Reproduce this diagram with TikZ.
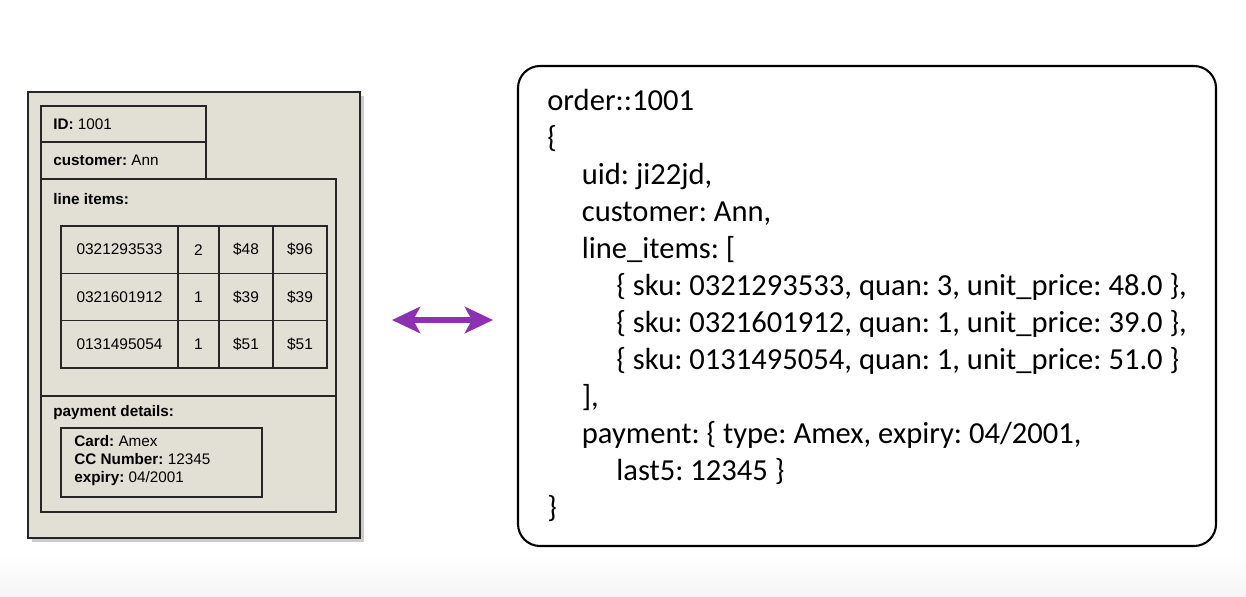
\documentclass[tikz,border=0pt]{standalone}
\usepackage{fontspec}
\usetikzlibrary{arrows.meta,shadows}
\newfontfamily\formfont{Liberation Sans}
\newfontfamily\codefont{Carlito}
\definecolor{formbg}{RGB}{226,224,213}
\definecolor{linkpurple}{RGB}{140,48,180}
\newcommand\pxl{0.02cm}
\frenchspacing
\begin{document}
\begin{tikzpicture}[x=0.02cm, y=-0.02cm,
    pane/.style={draw=black!85, fill=formbg, line width=0.8pt, inner sep=0, outer sep=0, anchor=north west},
    cell/.style={pane, minimum height=47.3*\pxl, font=\formfont\fontsize{8.8}{10}\selectfont},
    label/.style={anchor=base west, inner sep=0, font=\formfont\fontsize{8.7}{10.4}\selectfont},
    codeline/.style={anchor=base west, inner sep=0, font=\codefont\fontsize{17.4}{21}\selectfont}]
  \useasboundingbox (0,0) rectangle (1246,596);
  \shade[top color=white, bottom color=black!4] (0,556) rectangle (1246,596);

  % the order form
  \node[pane, line width=1pt, minimum width=332*\pxl, minimum height=446*\pxl,
        drop shadow={shadow xshift=2pt, shadow yshift=-2.5pt, opacity=.4}] (form) at (28,92) {};
  \node[pane, minimum width=165*\pxl, minimum height=36*\pxl] (idbox) at (41,106) {};
  \node[pane, minimum width=165*\pxl, minimum height=37*\pxl] (custbox) at (idbox.south west) {};
  \node[pane, minimum width=295*\pxl, minimum height=217*\pxl] (itembox) at (custbox.south west) {};
  \node[pane, minimum width=295*\pxl, minimum height=116*\pxl] (paybox) at (itembox.south west) {};
  \node[pane, minimum width=201*\pxl, minimum height=69*\pxl] (cardbox) at (61,428) {};

  \node[label] (idtxt) at (53,129.5) {\textbf{ID:} 1001};
  \node[label] (custtxt) at (53,165.5) {\textbf{customer:} Ann};
  \node[label] (itemtxt) at (53,204.5) {\textbf{line items:}};
  \node[label] (paytxt) at (53,416) {\textbf{payment details:}};
  \node[label] (cardtxt) at (74,446) {\textbf{Card:} Amex};
  \node[label] (cctxt) at (74,464) {\textbf{CC Number:} 12345};
  \node[label] (exptxt) at (74,482) {\textbf{expiry:} 04/2001};

  % line item table
  \foreach \sku/\q/\p/\t [count=\r] in {0321293533/2/48/96, 0321601912/1/39/39, 0131495054/1/51/51} {
    \node[cell, minimum width=117*\pxl] (sku\r) at (61,{226+(\r-1)*47.3}) {\sku};
    \node[cell, minimum width=41*\pxl] (qty\r) at (sku\r.north east) {\q};
    \node[cell, minimum width=54*\pxl] (unit\r) at (qty\r.north east) {\$\p};
    \node[cell, minimum width=54*\pxl] (tot\r) at (unit\r.north east) {\$\t};
  }

  % the document
  \node[draw, line width=1.2pt, rounded corners=0.44cm, minimum width=698*\pxl, minimum height=480*\pxl,
        inner sep=0, outer sep=0, anchor=north west] (doc) at (518,66) {};
  \foreach \lvl/\txt [count=\i] in {
      0/{order::1001}, 0/\{, 1/{uid: ji22jd,}, 1/{customer: Ann,}, 1/{line\_items: [},
      2/{\{ sku: 0321293533, quan: 3, unit\_price: 48.0 \},},
      2/{\{ sku: 0321601912, quan: 1, unit\_price: 39.0 \},},
      2/{\{ sku: 0131495054, quan: 1, unit\_price: 51.0 \}},
      1/{],}, 1/{payment: \{ type: Amex, expiry: 04/2001,}, 2/{last5: 12345 \}}, 0/\}}
    \node[codeline] (code\i) at ({547+\lvl*34.5},{110+(\i-1)*37}) {\txt};

  % mapping arrow
  \coordinate (mapl) at (392,320);
  \coordinate (mapr) at (493,320);
  \draw[linkpurple, line width=3pt, {Stealth[length=16pt,width=15pt,inset=4pt]}-{Stealth[length=16pt,width=15pt,inset=4pt]}] (mapl) -- (mapr);
\end{tikzpicture}
\end{document}
